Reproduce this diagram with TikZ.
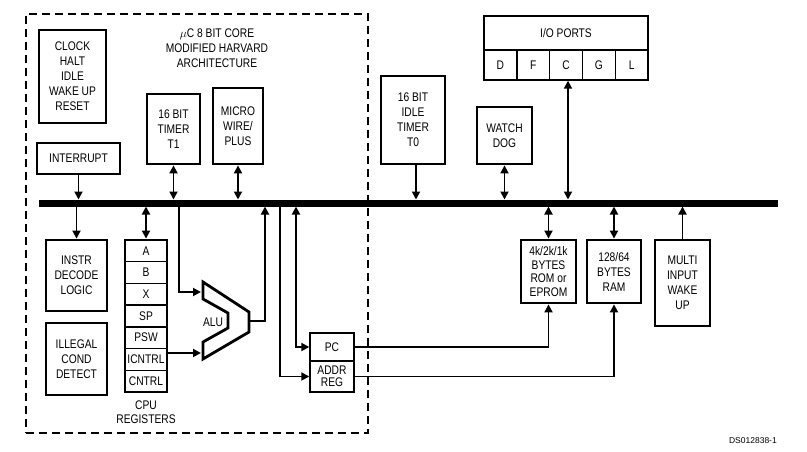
\documentclass[tikz,border=0pt]{standalone}
\usepackage{fontspec}
\setmainfont[FakeStretch=0.82]{Liberation Sans}
\newfontfamily\dsfont{Liberation Sans}
\usetikzlibrary{arrows.meta}
\begin{document}
\begin{tikzpicture}[x=1pt,y=-1pt,
  font=\fontsize{12.5}{15}\selectfont,
  blk/.style={draw, line width=2.8pt, fill=white, align=center, inner sep=0pt},
  cell/.style={draw, line width=1.4pt, align=center, inner sep=0pt},
  conn/.style={line width=1.8pt},
  >={Triangle[length=8pt,width=8pt]}
]
\useasboundingbox (0,0) rectangle (807,452);
% core dashed region
\node[draw, line width=2.2pt, dash pattern=on 8pt off 5pt, minimum width=342pt, minimum height=419pt, inner sep=0pt] (core) at (197,223.5) {};
\node[align=center] (title) at (217,48) {$\mu$C 8 BIT CORE\\MODIFIED HARVARD\\ARCHITECTURE};

% boxes
\node[blk, minimum width=67pt, minimum height=93pt] (clk) at (72.5,76.5) {CLOCK\\HALT\\IDLE\\WAKE UP\\RESET};
\node[blk, minimum width=53pt, minimum height=70pt] (t1) at (173.5,129) {16 BIT\\TIMER\\T1};
\node[blk, minimum width=50pt, minimum height=76pt] (mw) at (238,126) {MICRO\\WIRE/\\PLUS};
\node[blk, minimum width=83pt, minimum height=31pt] (intr) at (78.5,158.5) {INTERRUPT};
\node[blk, minimum width=64pt, minimum height=88pt] (t0) at (413,120) {16 BIT\\IDLE\\TIMER\\T0};
\node[blk, minimum width=55pt, minimum height=57pt] (wd) at (504.5,135.5) {WATCH\\DOG};
\node[blk, minimum width=61pt, minimum height=71pt] (instr) at (76.5,275.5) {INSTR\\DECODE\\LOGIC};
\node[blk, minimum width=61pt, minimum height=72pt] (ill) at (76.5,359) {ILLEGAL\\COND\\DETECT};
\node[blk, minimum width=55pt, minimum height=63pt, font=\fontsize{12.5}{13.5}\selectfont] (rom) at (548.5,271.5) {4k/2k/1k\\BYTES\\ROM or\\EPROM};
\node[blk, minimum width=54pt, minimum height=63pt] (ram) at (614,271.5) {128/64\\BYTES\\RAM};
\node[blk, minimum width=55pt, minimum height=86pt] (mwu) at (682.5,283) {MULTI\\INPUT\\WAKE\\UP};

% I/O ports
\node[cell, minimum width=164pt, minimum height=34pt] (iotop) at (566,33) {I/O PORTS};
\node[cell, minimum width=32.8pt, minimum height=30pt] (ioD) at (500.4,65) {D};
\node[cell, minimum width=32.8pt, minimum height=30pt] (ioF) at (533.2,65) {F};
\node[cell, minimum width=32.8pt, minimum height=30pt] (ioC) at (566,65) {C};
\node[cell, minimum width=32.8pt, minimum height=30pt] (ioG) at (598.8,65) {G};
\node[cell, minimum width=32.8pt, minimum height=30pt] (ioL) at (631.6,65) {L};
\node[draw, line width=2.8pt, minimum width=164pt, minimum height=64pt, inner sep=0pt] (io) at (566,48) {};

% CPU registers
\foreach \t [count=\i] in {A,B,X,SP,PSW,ICNTRL,CNTRL}{
  \node[cell, minimum width=42pt, minimum height=21.71pt] (r\i) at (146,{240+21.71*(\i-0.5)}) {\t};
}
\node[draw, line width=2.8pt, minimum width=42pt, minimum height=152pt, inner sep=0pt] (regs) at (146,316) {};
\node[align=center, font=\fontsize{12.5}{14}\selectfont] (regl) at (146,412) {CPU\\REGISTERS};

% PC / ADDR REG
\node[cell, minimum width=44pt, minimum height=28pt] (pc) at (332,347) {PC};
\node[cell, minimum width=44pt, minimum height=31pt, font=\fontsize{12.5}{12}\selectfont] (addr) at (332,376.5) {ADDR\\REG};
\node[draw, line width=2.8pt, minimum width=44pt, minimum height=59pt, inner sep=0pt] (pcbox) at (332,362.5) {};

% ALU
\draw[line width=2.8pt, line join=miter] (203,282) -- (249,312) -- (249,332) -- (203,359) -- (203,342) -- (228,328) -- (228,313) -- (203,299) -- cycle;
\node (alu) at (213,322) {ALU};
\coordinate (aluIn1) at (201,292);
\coordinate (aluIn2) at (201,353);
\coordinate (aluOut) at (249,321);

% bus
\coordinate (busL) at (39,203);
\coordinate (busR) at (778,203);
\draw[line width=7pt] (busL) -- (busR);
\coordinate (busT) at (0,199.5);
\coordinate (busB) at (0,206.5);
\coordinate (tapA) at (179,206.5);
\coordinate (tapB) at (265,206.5);
\coordinate (tapC) at (280,206.5);
\coordinate (tapD) at (296,206.5);

% connectors above bus
\draw[conn,->] (intr.south) -- (intr.south |- busT);
\draw[conn,<->] (t1.south) -- (t1.south |- busT);
\draw[conn,<->] (mw.south) -- (mw.south |- busT);
\draw[conn,->] ([xshift=3pt]t0.south) -- ([xshift=3pt]t0.south |- busT);
\draw[conn,<->] (wd.south) -- (wd.south |- busT);
\draw[conn,<->] ([xshift=2pt]ioC.south) -- ([xshift=2pt]ioC.south |- busT);

% connectors below bus
\draw[conn,->] (instr.north |- busB) -- (instr.north);
\draw[conn,<->] (regs.north |- busB) -- (regs.north);
\draw[conn,<->] (rom.north |- busB) -- (rom.north);
\draw[conn,<->] (ram.north |- busB) -- (ram.north);
\draw[conn,->] (mwu.north) -- (mwu.north |- busB);
\draw[conn,->] (tapA) |- (aluIn1);
\draw[conn,->] (aluIn2 -| regs.east) -- (aluIn2);
\draw[conn,->] (aluOut) -| (tapB);
\draw[conn,->] (tapC) |- (addr.west);
\draw[conn,<->] (tapD) |- (pc.west);
\draw[conn,->] (pc.east) -| (rom.south);
\draw[conn,->] (addr.east) -| (ram.south);

\node[anchor=east, font=\dsfont\fontsize{8.5}{10}\selectfont, inner sep=0pt] (ds) at (777,441) {DS012838-1};
\end{tikzpicture}
\end{document}
